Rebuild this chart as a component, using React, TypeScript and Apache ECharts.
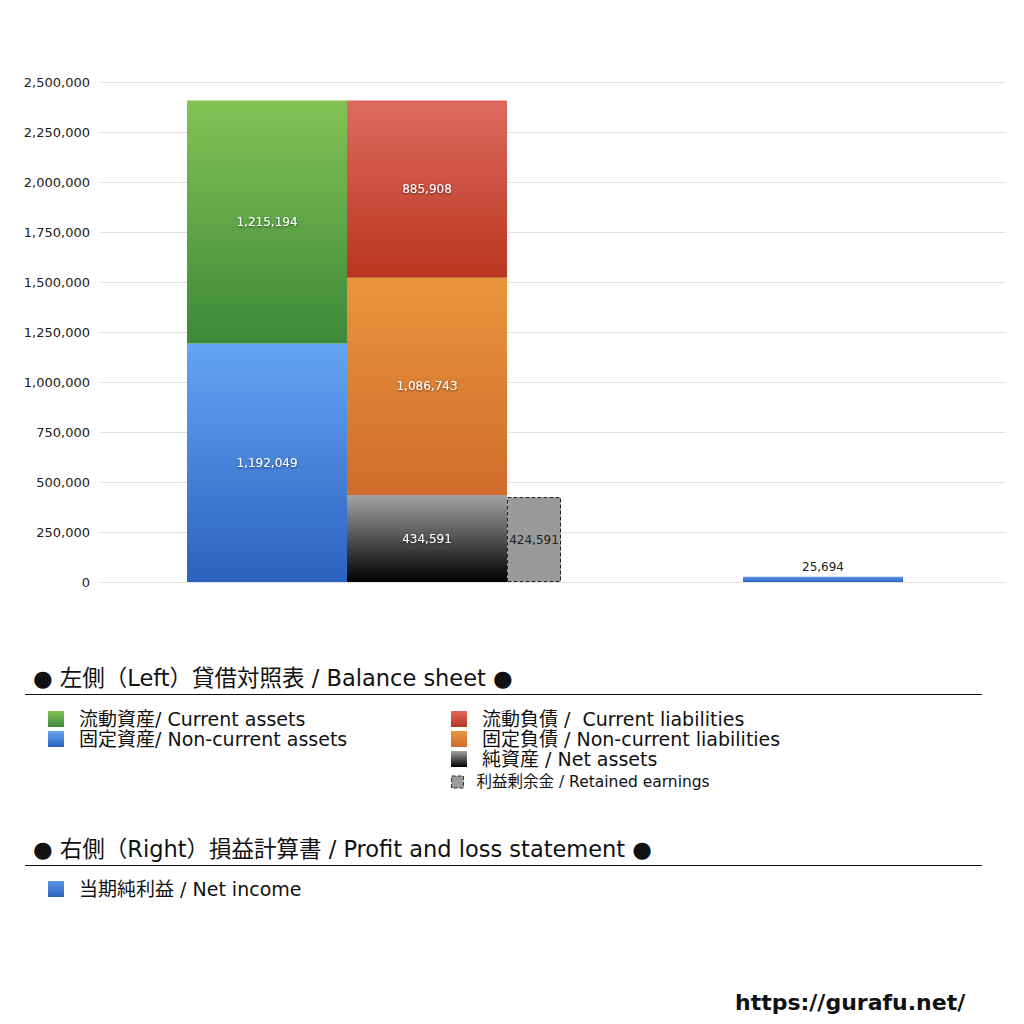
import React, { useEffect, useRef } from 'react';
import * as echarts from 'echarts';

// 貸借対照表 (left) / 損益計算書 (right)
const categories = ['BS', 'PL'];
const nonCurrentAssets = [1192049, '-'];
const currentAssets = [1215194, '-'];
const netAssets = [434591, '-'];
const nonCurrentLiabilities = [1086743, '-'];
const currentLiabilities = [885908, '-'];
const retainedEarnings = [424591, '-'];
const netIncome = ['-', 25694];
const yTicks = { min: 0, max: 2500000, interval: 250000 };

const legendAssets = ['流動資産/ Current assets', '固定資産/ Non-current assets'];
const legendLiab = ['流動負債 /  Current liabilities', '固定負債 / Non-current liabilities', '純資産 / Net assets'];
const legendRetained = ['利益剰余金 / Retained earnings'];
const legendPL = ['当期純利益 / Net income'];

const JP = '"DejaVu Sans", "Noto Sans CJK JP", sans-serif';
const NUM = '"DejaVu Sans", "Liberation Sans", sans-serif';

const grad = (top: string, bottom: string) =>
  new echarts.graphic.LinearGradient(0, 0, 0, 1, [
    { offset: 0, color: top },
    { offset: 1, color: bottom }
  ]);

const fmt = (p: any) => Number(p.value).toLocaleString('en-US');

const innerLabel = {
  show: true,
  position: 'inside',
  color: '#fff',
  fontFamily: NUM,
  fontSize: 12,
  textShadowColor: 'rgba(0,0,0,0.6)',
  textShadowBlur: 2,
  textShadowOffsetY: 1,
  formatter: fmt
};

const App: React.FC = () => {
  const chartRef = useRef<HTMLDivElement>(null);

  useEffect(() => {
    if (!chartRef.current) return;
    document.body.style.margin = '0';
    const chart = echarts.init(chartRef.current, null, { renderer: 'svg' });

    const legendBase = {
      orient: 'vertical' as const,
      icon: 'rect',
      padding: 0,
      itemWidth: 16,
      itemHeight: 16,
      itemGap: 0,
      selectedMode: false,
      textStyle: {
        fontFamily: JP,
        fontSize: 19,
        lineHeight: 20,
        color: '#111',
        padding: [0, 0, 0, 10]
      }
    };

    const option: any = {
      animation: false,
      backgroundColor: '#fff',
      grid: { left: 100, right: 19, top: 82, bottom: 442 },
      xAxis: [
        {
          type: 'category',
          data: categories,
          axisLine: { show: false },
          axisTick: { show: false },
          axisLabel: { show: false }
        },
        {
          type: 'category',
          data: categories,
          show: false
        }
      ],
      yAxis: {
        type: 'value',
        min: yTicks.min,
        max: yTicks.max,
        interval: yTicks.interval,
        axisLine: { show: false },
        axisTick: { show: false },
        axisLabel: {
          fontFamily: NUM,
          fontSize: 13,
          color: '#222',
          margin: 10,
          formatter: (v: number) => v.toLocaleString('en-US')
        },
        splitLine: { lineStyle: { type: 'dotted', color: '#c8c8c8' } }
      },
      legend: [
        { ...legendBase, left: 48, top: 709, data: legendAssets },
        { ...legendBase, left: 451, top: 709, data: legendLiab },
        {
          ...legendBase,
          left: 451,
          top: 774,
          itemWidth: 12,
          itemHeight: 12,
          data: legendRetained,
          itemStyle: { borderType: 'dashed', borderColor: '#333', borderWidth: 1 },
          textStyle: { ...legendBase.textStyle, fontSize: 15.5, lineHeight: 16, padding: [0, 0, 0, 8] }
        },
        { ...legendBase, left: 48, top: 879, data: legendPL }
      ],
      graphic: [
        {
          type: 'text',
          left: 33,
          top: 667,
          style: { text: '● 左側（Left）貸借対照表 / Balance sheet ●', font: `22.5px ${JP}`, fill: '#111' }
        },
        { type: 'line', shape: { x1: 25, y1: 694.5, x2: 982, y2: 694.5 }, style: { stroke: '#111', lineWidth: 1 } },
        {
          type: 'text',
          left: 33,
          top: 838,
          style: { text: '● 右側（Right）損益計算書 / Profit and loss statement ●', font: `22.5px ${JP}`, fill: '#111' }
        },
        { type: 'line', shape: { x1: 25, y1: 865.5, x2: 982, y2: 865.5 }, style: { stroke: '#111', lineWidth: 1 } },
        {
          type: 'text',
          left: 735,
          top: 991,
          style: { text: 'https://gurafu.net/', font: `bold 22px ${NUM}`, fill: '#111' }
        }
      ],
      series: [
        // spacer to place the balance sheet group
        { type: 'bar', name: 'sp0', xAxisIndex: 0, stack: 'sp0', barWidth: 95.5, barGap: 0, data: ['-', '-'], silent: true },
        {
          type: 'bar', name: legendAssets[1], xAxisIndex: 0, stack: 'assets', barWidth: 160, barGap: 0,
          data: nonCurrentAssets, itemStyle: { color: grad('#65a5f4', '#2b61bf') }, label: innerLabel
        },
        {
          type: 'bar', name: legendAssets[0], xAxisIndex: 0, stack: 'assets', barWidth: 160, barGap: 0,
          data: currentAssets, itemStyle: { color: grad('#84c255', '#3c8938') }, label: innerLabel
        },
        {
          type: 'bar', name: legendLiab[2], xAxisIndex: 0, stack: 'liab', barWidth: 160, barGap: 0,
          data: netAssets, itemStyle: { color: grad('#a3a3a3', '#000000') }, label: innerLabel
        },
        {
          type: 'bar', name: legendLiab[1], xAxisIndex: 0, stack: 'liab', barWidth: 160, barGap: 0,
          data: nonCurrentLiabilities, itemStyle: { color: grad('#e8963d', '#d06b2b') }, label: innerLabel
        },
        {
          type: 'bar', name: legendLiab[0], xAxisIndex: 0, stack: 'liab', barWidth: 160, barGap: 0,
          data: currentLiabilities, itemStyle: { color: grad('#dd6a5e', '#b9351f') }, label: innerLabel
        },
        {
          type: 'bar', name: legendRetained[0], xAxisIndex: 0, stack: 'ret', barWidth: 54, barGap: 0,
          data: retainedEarnings,
          itemStyle: { color: '#9a9a9a', borderColor: '#222', borderWidth: 1, borderType: 'dashed' },
          label: { ...innerLabel, color: '#222', textShadowBlur: 0, textShadowOffsetY: 0, textShadowColor: 'transparent' }
        },
        // spacer to place the P/L bar
        { type: 'bar', name: 'sp1', xAxisIndex: 1, stack: 'sp1', barWidth: 88.5, barGap: 0, data: ['-', '-'], silent: true },
        {
          type: 'bar', name: legendPL[0], xAxisIndex: 1, stack: 'pl', barWidth: 160, barGap: 0,
          data: netIncome, itemStyle: { color: grad('#5b95e6', '#2d63c0') },
          label: {
            show: true, position: 'top', color: '#222', fontFamily: NUM, fontSize: 12, distance: 4,
            formatter: fmt
          }
        }
      ]
    };

    chart.setOption(option);
    return () => {
      chart.dispose();
    };
  }, []);

  return (
    <div
      ref={chartRef}
      style={{ position: 'absolute', left: 0, top: 0, width: '1024px', height: '1024px', background: '#fff' }}
    />
  );
};

export default App;
